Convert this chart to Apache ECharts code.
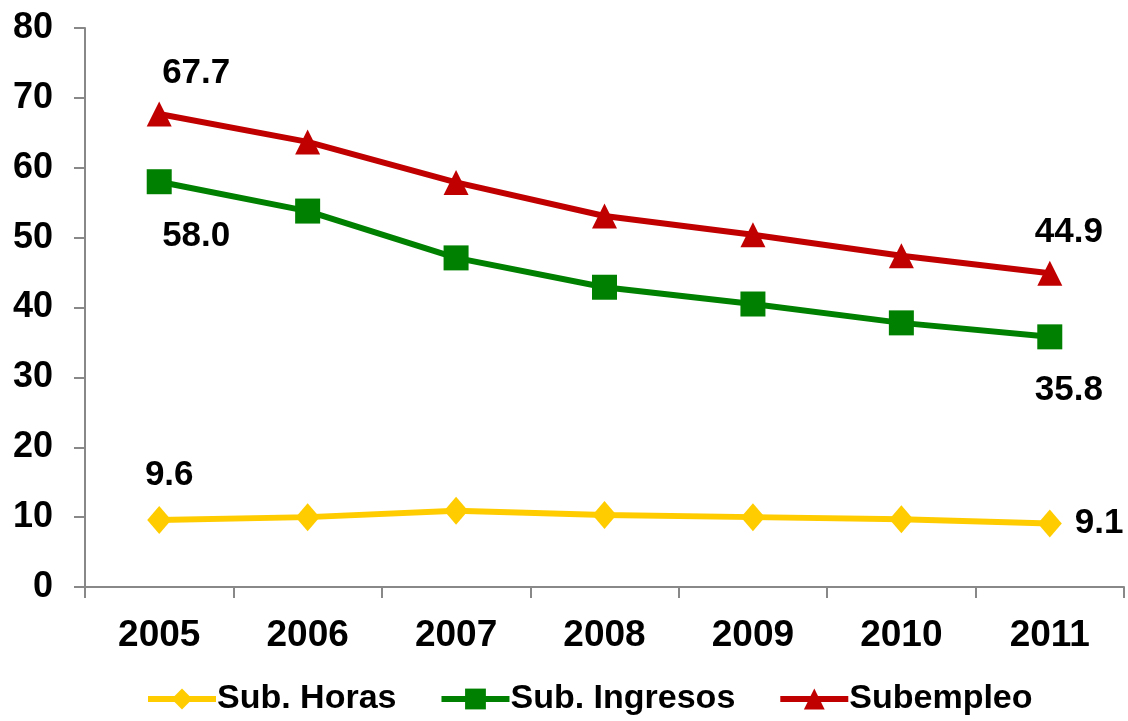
<!DOCTYPE html>
<html>
<head>
<meta charset="utf-8">
<script src="https://cdn.jsdelivr.net/npm/echarts@6/dist/echarts.min.js"></script>
<style>
html,body{margin:0;padding:0;background:#fff;}
#chart{width:1128px;height:721px;}
</style>
</head>
<body>
<div id="chart"></div>
<script>
var years = ['2005','2006','2007','2008','2009','2010','2011'];
var subHoras = [9.6, 10.0, 10.9, 10.3, 10.0, 9.7, 9.1];
var subIngresos = [58.0, 53.8, 47.1, 42.9, 40.5, 37.8, 35.8];
var subempleo = [67.7, 63.7, 57.9, 53.1, 50.4, 47.4, 44.9];
var seriesNames = ['Sub. Horas', 'Sub. Ingresos', 'Subempleo'];
var yTicks = [0, 10, 20, 30, 40, 50, 60, 70, 80];

var FONT = '"Liberation Sans", Arial, sans-serif';
var lblStyle = {show: true, color: '#000', fontFamily: FONT, fontWeight: 'bold', fontSize: 35,
  formatter: function (p) { return p.value.toFixed(1); }};

function withLabels(arr, cfg) {
  return arr.map(function (v, i) {
    if (cfg[i]) {
      return {value: v, label: Object.assign({}, lblStyle, cfg[i])};
    }
    return v;
  });
}

var chart = echarts.init(document.getElementById('chart'));
chart.setOption({
  animation: false,
  backgroundColor: '#fff',
  grid: {left: 85, right: 4, top: 28, bottom: 134, containLabel: false},
  legend: {
    data: seriesNames,
    bottom: 0,
    left: 140,
    itemWidth: 68,
    itemHeight: 26,
    itemGap: 42,
    lineStyle: {width: 6},
    textStyle: {color: '#000', fontFamily: FONT, fontWeight: 'bold', fontSize: 34, padding: [0, 0, 0, -4]}
  },
  xAxis: {
    type: 'category',
    data: years,
    boundaryGap: true,
    axisLine: {lineStyle: {color: '#888', width: 2}},
    axisTick: {show: true, length: 11, lineStyle: {color: '#888', width: 2}},
    axisLabel: {color: '#000', fontFamily: FONT, fontWeight: 'bold', fontSize: 37, margin: 30},
    splitLine: {show: false}
  },
  yAxis: {
    type: 'value',
    min: yTicks[0],
    max: yTicks[yTicks.length - 1],
    interval: 10,
    axisLine: {show: true, lineStyle: {color: '#888', width: 2}},
    axisTick: {show: true, length: 11, lineStyle: {color: '#888', width: 2}},
    axisLabel: {color: '#000', fontFamily: FONT, fontWeight: 'bold', fontSize: 36, margin: 32},
    splitLine: {show: false}
  },
  series: [
    {
      name: seriesNames[0], type: 'line',
      data: withLabels(subHoras, {0: {position: 'top', offset: [10, -8]}, 6: {position: 'right', offset: [8, 0]}}),
      symbol: 'diamond', symbolSize: [24, 28],
      lineStyle: {color: '#FFCC00', width: 6},
      itemStyle: {color: '#FFCC00'},
      z: 3
    },
    {
      name: seriesNames[1], type: 'line',
      data: withLabels(subIngresos, {0: {position: 'bottom', offset: [37, 20]}, 6: {position: 'bottom', offset: [19, 18]}}),
      symbol: 'rect', symbolSize: 25,
      lineStyle: {color: '#008000', width: 6},
      itemStyle: {color: '#008000'},
      z: 4
    },
    {
      name: seriesNames[2], type: 'line',
      data: withLabels(subempleo, {0: {position: 'top', offset: [37, -6]}, 6: {position: 'top', offset: [19, -6]}}),
      symbol: 'triangle', symbolSize: 25,
      lineStyle: {color: '#C00000', width: 6},
      itemStyle: {color: '#C00000'},
      z: 5
    }
  ]
});
</script>
</body>
</html>
